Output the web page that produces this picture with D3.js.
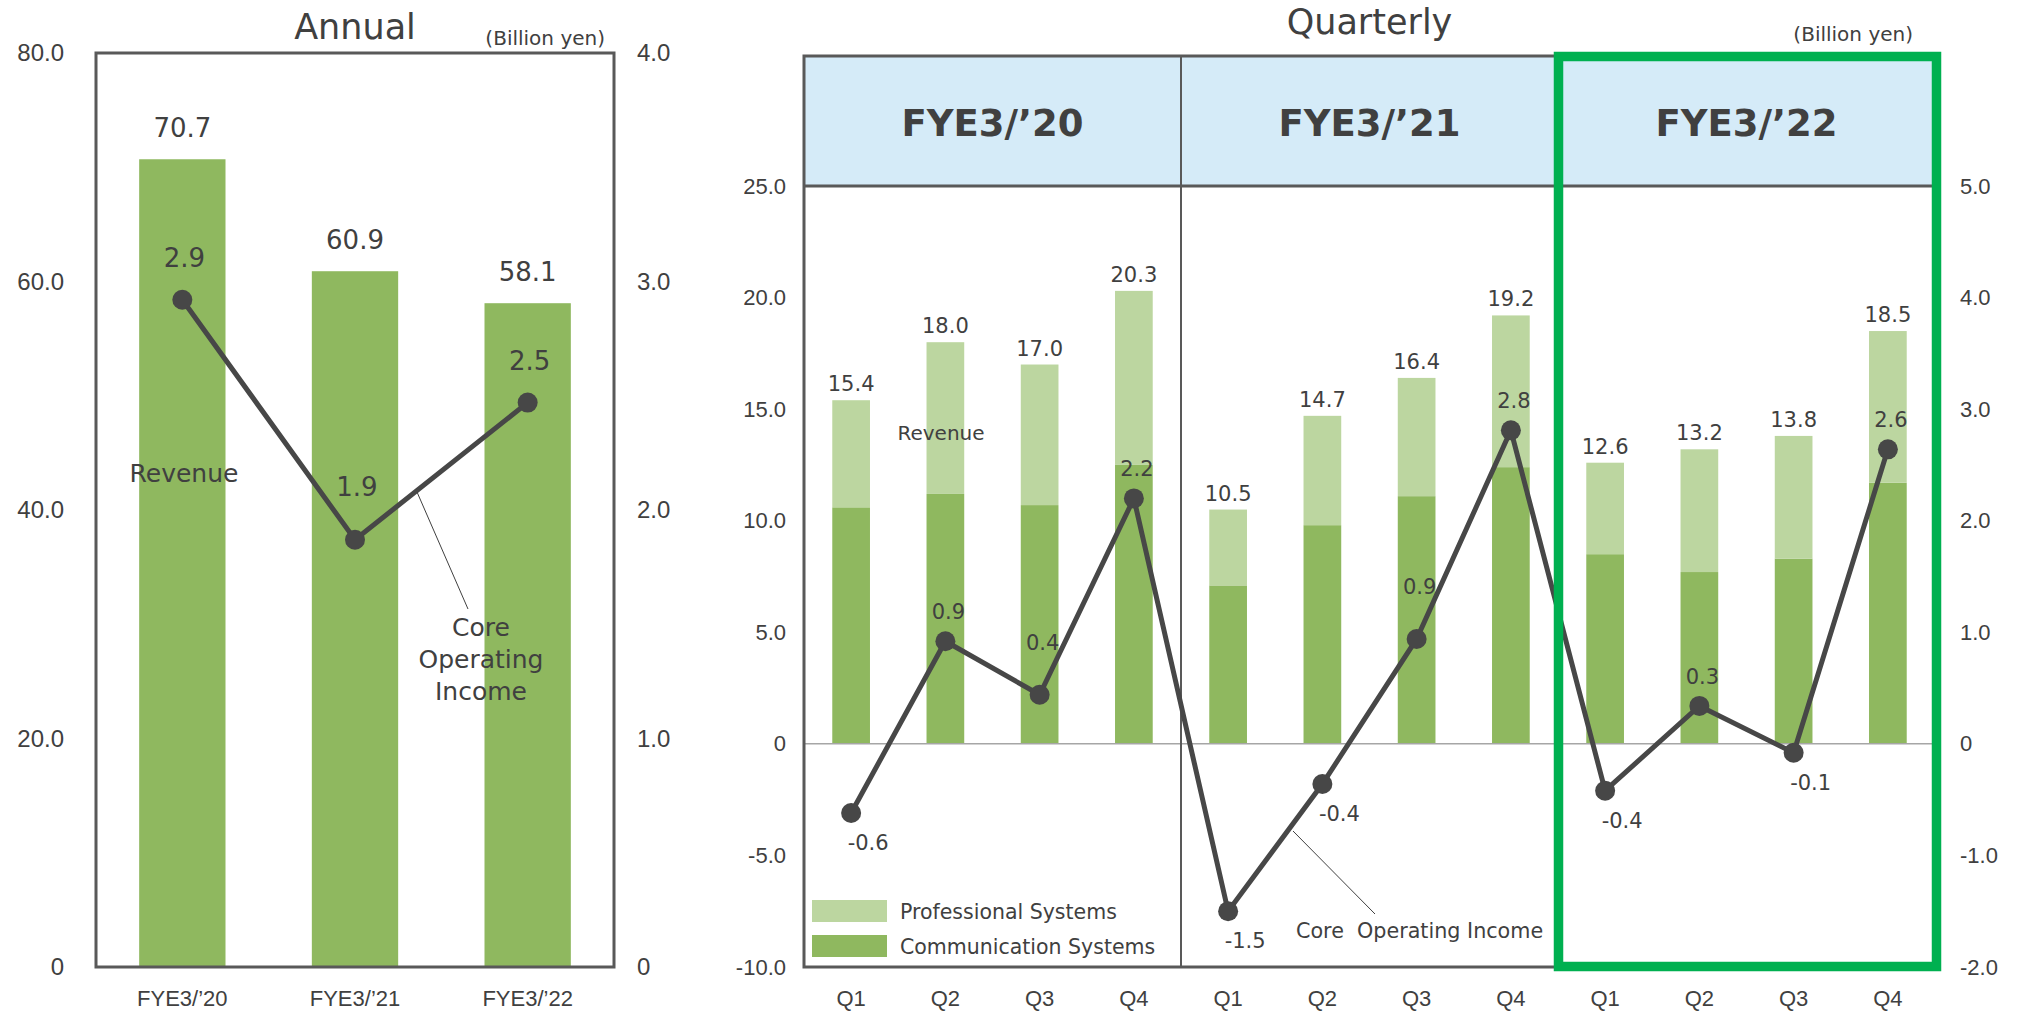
<!DOCTYPE html>
<html>
<head>
<meta charset="utf-8">
<script src="https://cdn.jsdelivr.net/npm/d3@7"></script>
<style>
  body { margin: 0; background: #fff; }
  svg { display: block; font-family: "DejaVu Sans", sans-serif; }
  .axis text { fill: #404040; }
  .axis path, .axis line { display: none; }
</style>
</head>
<body>
<svg id="chart" width="2018" height="1011"></svg>
<script>
// ---- annual data ----
let annualYears = ["FYE3/’20", "FYE3/’21", "FYE3/’22"];
let annualRevenue = [70.7, 60.9, 58.1];
let annualCoreOI = [2.92, 1.87, 2.47];
let annualLeftTicks = [0, 20, 40, 60, 80];
let annualRightTicks = [0, 1, 2, 3, 4];

// ---- quarterly data ----
let fiscalYears = ["FYE3/’20", "FYE3/’21", "FYE3/’22"];
let quarterNames = ["Q1", "Q2", "Q3", "Q4", "Q1", "Q2", "Q3", "Q4", "Q1", "Q2", "Q3", "Q4"];
let commSystems = [10.6, 11.2, 10.7, 12.5, 7.1, 9.8, 11.1, 12.4, 8.5, 7.7, 8.3, 11.7];
let profSystems = [4.8, 6.8, 6.3, 7.8, 3.4, 4.9, 5.3, 6.8, 4.1, 5.5, 5.5, 6.8];
let quarterlyCoreOI = [-0.62, 0.92, 0.44, 2.2, -1.5, -0.36, 0.94, 2.81, -0.42, 0.34, -0.08, 2.64];
let seriesNames = ["Professional Systems", "Communication Systems"];
let qLeftTicks = [-10, -5, 0, 5, 10, 15, 20, 25];
let qRightTicks = [-2, -1, 0, 1, 2, 3, 4, 5];

let darkGreen = "#8fb85f";
let lightGreen = "#bcd6a0";
let lineColor = "#474747";
let textColor = "#404040";
let frameColor = "#595959";

let svg = d3.select("#chart");
// hyphen minus, like the original
let locale = d3.formatLocale({ decimal: ".", thousands: ",", grouping: [3], currency: ["", ""], minus: "-" });
let f1 = locale.format(".1f");
let fmt = d => d === 0 ? "0" : f1(d);

// ================= Annual =================
let aLeft = 96, aRight = 614, aTop = 53, aBottom = 967;
let ax = d3.scaleBand().domain(annualYears).range([aLeft, aRight]).paddingInner(0.5).paddingOuter(0.25);
let ay = d3.scaleLinear().domain([0, 80]).range([aBottom, aTop]);
let ay2 = d3.scaleLinear().domain([0, 4]).range([aBottom, aTop]);

let annual = svg.append("g");

annual.selectAll("rect.bar").data(annualRevenue).enter().append("rect")
    .attr("class", "bar")
    .attr("x", (d, i) => ax(annualYears[i]))
    .attr("width", ax.bandwidth())
    .attr("y", d => ay(d))
    .attr("height", d => ay(0) - ay(d))
    .attr("fill", darkGreen);

annual.selectAll("text.barLabel").data(annualRevenue).enter().append("text")
    .attr("x", (d, i) => ax(annualYears[i]) + ax.bandwidth() / 2)
    .attr("y", d => ay(d) - 22)
    .attr("text-anchor", "middle")
    .attr("font-size", 26)
    .attr("fill", textColor)
    .text(d => f1(d));

// frame
annual.append("rect")
    .attr("x", aLeft).attr("y", aTop)
    .attr("width", aRight - aLeft).attr("height", aBottom - aTop)
    .attr("fill", "none").attr("stroke", frameColor).attr("stroke-width", 3);

let aLine = d3.line()
    .x((d, i) => ax(annualYears[i]) + ax.bandwidth() / 2)
    .y(d => ay2(d));

annual.append("path")
    .datum(annualCoreOI)
    .attr("d", aLine)
    .attr("fill", "none")
    .attr("stroke", lineColor)
    .attr("stroke-width", 5);

annual.selectAll("circle").data(annualCoreOI).enter().append("circle")
    .attr("cx", (d, i) => ax(annualYears[i]) + ax.bandwidth() / 2)
    .attr("cy", d => ay2(d))
    .attr("r", 10)
    .attr("fill", lineColor);

annual.selectAll("text.lineLabel").data(annualCoreOI).enter().append("text")
    .attr("x", (d, i) => ax(annualYears[i]) + ax.bandwidth() / 2 + 2)
    .attr("y", (d, i) => ay2(d) - (i === 1 ? 44 : 33))
    .attr("text-anchor", "middle")
    .attr("font-size", 26)
    .attr("fill", textColor)
    .text(d => f1(d));

// axes
annual.append("g").attr("class", "axis")
    .attr("transform", "translate(70,0)")
    .call(d3.axisLeft(ay).tickValues(annualLeftTicks).tickSize(0).tickPadding(6).tickFormat(fmt))
    .selectAll("text").attr("font-size", 24);
annual.append("g").attr("class", "axis")
    .attr("transform", "translate(631,0)")
    .call(d3.axisRight(ay2).tickValues(annualRightTicks).tickSize(0).tickPadding(6).tickFormat(fmt))
    .selectAll("text").attr("font-size", 24);
annual.append("g").attr("class", "axis")
    .attr("transform", "translate(0," + aBottom + ")")
    .call(d3.axisBottom(ax).tickSize(0).tickPadding(23))
    .selectAll("text").attr("font-size", 22);

annual.append("text").attr("x", (aLeft + aRight) / 2).attr("y", 39)
    .attr("text-anchor", "middle").attr("font-size", 35).attr("fill", textColor).text("Annual");
annual.append("text").attr("x", 605).attr("y", 45)
    .attr("text-anchor", "end").attr("font-size", 20).attr("fill", textColor).text("(Billion yen)");

annual.append("text").attr("x", 184).attr("y", 482)
    .attr("text-anchor", "middle").attr("font-size", 25).attr("fill", textColor).text("Revenue");
annual.append("line").attr("x1", 417).attr("y1", 492).attr("x2", 468).attr("y2", 609)
    .attr("stroke", textColor).attr("stroke-width", 1);
let coreText = annual.append("text").attr("text-anchor", "middle").attr("font-size", 25).attr("fill", textColor);
["Core", "Operating", "Income"].forEach((t, i) => {
    coreText.append("tspan").attr("x", 481).attr("y", 636 + i * 32).text(t);
});

// ================= Quarterly =================
let qLeft = 804, qRight = 1935, qTop = 56, qHeadBottom = 186, qBottom = 967;
let qIdx = d3.range(quarterNames.length);
let qx = d3.scaleBand().domain(qIdx).range([qLeft, qRight]).paddingInner(0.6).paddingOuter(0.3);
let sx = d3.scaleBand().domain(fiscalYears).range([qLeft, qRight]);
let qy = d3.scaleLinear().domain([-10, 25]).range([qBottom, qHeadBottom]);
let qy2 = d3.scaleLinear().domain([-2, 5]).range([qBottom, qHeadBottom]);

let quarterly = svg.append("g");

// header
quarterly.selectAll("rect.head").data(fiscalYears).enter().append("rect")
    .attr("x", d => sx(d)).attr("y", qTop)
    .attr("width", sx.bandwidth()).attr("height", qHeadBottom - qTop)
    .attr("fill", "#d5ebf8");
quarterly.selectAll("text.head").data(fiscalYears).enter().append("text")
    .attr("x", d => sx(d) + sx.bandwidth() / 2)
    .attr("y", 136)
    .attr("text-anchor", "middle")
    .attr("font-size", 37)
    .attr("font-weight", "bold")
    .attr("fill", textColor)
    .text(d => d);

// stacked bars
let stackData = qIdx.map(i => ({ i: i, comm: commSystems[i], prof: profSystems[i] }));
let stacked = d3.stack().keys(["comm", "prof"])(stackData);
let barColors = { comm: darkGreen, prof: lightGreen };
stacked.forEach(layer => {
    quarterly.selectAll("rect.s-" + layer.key).data(layer).enter().append("rect")
        .attr("x", d => qx(d.data.i))
        .attr("width", qx.bandwidth())
        .attr("y", d => qy(d[1]))
        .attr("height", d => qy(d[0]) - qy(d[1]))
        .attr("fill", barColors[layer.key]);
});

quarterly.selectAll("text.total").data(stackData).enter().append("text")
    .attr("x", d => qx(d.i) + qx.bandwidth() / 2)
    .attr("y", d => qy(d.comm + d.prof) - 9)
    .attr("text-anchor", "middle")
    .attr("font-size", 21)
    .attr("fill", textColor)
    .text(d => f1(d.comm + d.prof));

// zero line
quarterly.append("line")
    .attr("x1", qLeft).attr("x2", qRight)
    .attr("y1", qy(0)).attr("y2", qy(0))
    .attr("stroke", "#a6a6a6").attr("stroke-width", 1.5);

// frame and dividers
quarterly.append("rect")
    .attr("x", qLeft).attr("y", qTop)
    .attr("width", qRight - qLeft).attr("height", qBottom - qTop)
    .attr("fill", "none").attr("stroke", frameColor).attr("stroke-width", 3);
quarterly.append("line")
    .attr("x1", qLeft).attr("x2", qRight)
    .attr("y1", qHeadBottom).attr("y2", qHeadBottom)
    .attr("stroke", frameColor).attr("stroke-width", 3);
quarterly.selectAll("line.div").data(fiscalYears.slice(1)).enter().append("line")
    .attr("x1", d => sx(d)).attr("x2", d => sx(d))
    .attr("y1", qTop).attr("y2", qBottom)
    .attr("stroke", frameColor).attr("stroke-width", 2);

// core operating income line
let qLine = d3.line()
    .x((d, i) => qx(i) + qx.bandwidth() / 2)
    .y(d => qy2(d));
quarterly.append("path")
    .datum(quarterlyCoreOI)
    .attr("d", qLine)
    .attr("fill", "none")
    .attr("stroke", lineColor)
    .attr("stroke-width", 5);
quarterly.selectAll("circle").data(quarterlyCoreOI).enter().append("circle")
    .attr("cx", (d, i) => qx(i) + qx.bandwidth() / 2)
    .attr("cy", d => qy2(d))
    .attr("r", 10)
    .attr("fill", lineColor);

// labels: below for losses, above for profits (higher when the line climbs steeply next)
let labelDy = (d, i) => {
    if (d < 0) return 37;
    let next = quarterlyCoreOI[i + 1];
    return (next !== undefined && next > d + 1) ? -45 : -22;
};
quarterly.selectAll("text.oi").data(quarterlyCoreOI).enter().append("text")
    .attr("x", (d, i) => qx(i) + qx.bandwidth() / 2 + (d < 0 ? 17 : 3))
    .attr("y", (d, i) => qy2(d) + labelDy(d, i))
    .attr("text-anchor", "middle")
    .attr("font-size", 21)
    .attr("fill", textColor)
    .text(d => f1(d));

// axes
quarterly.append("g").attr("class", "axis")
    .attr("transform", "translate(792,0)")
    .call(d3.axisLeft(qy).tickValues(qLeftTicks).tickSize(0).tickPadding(6).tickFormat(fmt))
    .selectAll("text").attr("font-size", 22);
quarterly.append("g").attr("class", "axis")
    .attr("transform", "translate(1954,0)")
    .call(d3.axisRight(qy2).tickValues(qRightTicks).tickSize(0).tickPadding(6).tickFormat(fmt))
    .selectAll("text").attr("font-size", 22);
quarterly.append("g").attr("class", "axis")
    .attr("transform", "translate(0," + qBottom + ")")
    .call(d3.axisBottom(qx).tickSize(0).tickPadding(23).tickFormat(i => quarterNames[i]))
    .selectAll("text").attr("font-size", 22);

// legend
let legend = quarterly.append("g").attr("transform", "translate(812,900)");
let legendColors = [lightGreen, darkGreen];
legend.selectAll("rect").data(seriesNames).enter().append("rect")
    .attr("x", 0).attr("y", (d, i) => i * 35)
    .attr("width", 75).attr("height", 22)
    .attr("fill", (d, i) => legendColors[i]);
legend.selectAll("text").data(seriesNames).enter().append("text")
    .attr("x", 88).attr("y", (d, i) => i * 35 + 19)
    .attr("font-size", 20.5)
    .attr("fill", textColor)
    .text(d => d);

// annotations
quarterly.append("text").attr("x", 941).attr("y", 440)
    .attr("text-anchor", "middle").attr("font-size", 20).attr("fill", textColor).text("Revenue");
quarterly.append("line").attr("x1", 1293).attr("y1", 831).attr("x2", 1375).attr("y2", 914)
    .attr("stroke", textColor).attr("stroke-width", 1);
quarterly.append("text").attr("x", 1296).attr("y", 938)
    .attr("font-size", 20.7).attr("fill", textColor)
    .style("white-space", "pre").text("Core  Operating Income");

quarterly.append("text").attr("x", (qLeft + qRight) / 2).attr("y", 34)
    .attr("text-anchor", "middle").attr("font-size", 35).attr("fill", textColor).text("Quarterly");
quarterly.append("text").attr("x", 1913).attr("y", 41)
    .attr("text-anchor", "end").attr("font-size", 20).attr("fill", textColor).text("(Billion yen)");

// highlight box around latest fiscal year
quarterly.append("rect")
    .attr("x", sx(fiscalYears[2]) + 0.5).attr("y", qTop + 0.5)
    .attr("width", sx.bandwidth() + 1).attr("height", qBottom - qTop - 1)
    .attr("fill", "none").attr("stroke", "#00b050").attr("stroke-width", 9.5);
</script>
</body>
</html>
